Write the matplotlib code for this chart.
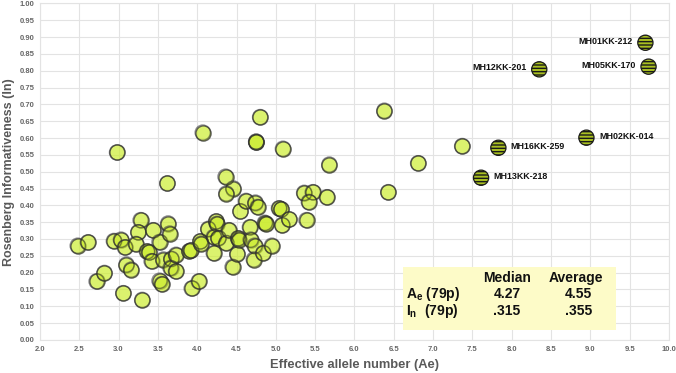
import matplotlib
matplotlib.use("Agg")
import matplotlib.pyplot as plt
import numpy as np

plt.rcParams['font.family'] = ['Liberation Sans', 'DejaVu Sans']

# Regular markers: effective allele number (Ae) and Rosenberg informativeness (In)
ae = [2.48, 2.61, 2.72, 2.82, 2.94, 3.03, 3.08, 3.10, 3.16, 3.06,
      3.30, 3.28, 3.25, 3.22, 3.36, 3.39, 3.42, 3.44, 3.52, 3.62,
      3.63, 3.65, 3.52, 3.55, 3.57, 3.67, 3.66, 3.73, 3.73, 3.90,
      3.92, 3.93, 4.02, 4.04, 4.05, 4.14, 4.21, 4.24, 4.25, 4.21,
      4.27, 4.37, 4.40, 4.45, 4.51, 4.52, 4.53, 4.55, 4.62, 4.67,
      4.68, 4.73, 4.74, 4.77, 4.72, 4.86, 4.88, 4.84, 4.95, 5.04,
      5.07, 5.08, 5.17, 5.36, 5.47, 5.42, 5.39, 5.65, 4.46, 4.37,
      2.98, 4.07, 4.36, 4.80, 4.75, 4.75, 5.09, 5.68, 6.38, 7.37,
      6.81, 6.43]
inf = [0.280, 0.290, 0.174, 0.199, 0.294, 0.298, 0.275, 0.224, 0.209, 0.139,
       0.119, 0.356, 0.320, 0.285, 0.263, 0.260, 0.234, 0.326, 0.291, 0.465,
       0.346, 0.316, 0.176, 0.166, 0.239, 0.241, 0.214, 0.253, 0.204, 0.264,
       0.266, 0.153, 0.174, 0.293, 0.286, 0.330, 0.258, 0.352, 0.345, 0.306,
       0.303, 0.288, 0.326, 0.217, 0.256, 0.302, 0.298, 0.382, 0.413, 0.335,
       0.298, 0.280, 0.408, 0.395, 0.239, 0.348, 0.345, 0.258, 0.280, 0.391,
       0.388, 0.341, 0.358, 0.437, 0.439, 0.410, 0.356, 0.424, 0.450, 0.435,
       0.557, 0.616, 0.485, 0.662, 0.589, 0.589, 0.568, 0.521, 0.681, 0.576,
       0.525, 0.439]

# Highlighted loci
hl_names = ["MH01KK-212", "MH05KK-170", "MH12KK-201", "MH02KK-014", "MH16KK-259", "MH13KK-218"]
hl_ae = [9.70, 9.74, 8.35, 8.95, 7.83, 7.61]
hl_in = [0.883, 0.812, 0.804, 0.601, 0.571, 0.482]
hl_side = ["left", "left", "left", "right", "right", "right"]

# Summary table
tbl_cols = ["Median", "Average"]
tbl_rows = ["A$_{\\mathregular{e}}$ (79p)", "I$_{\\mathregular{n}}$  (79p)"]
tbl_vals = [["4.27", "4.55"], [".315", ".355"]]

fig = plt.figure(figsize=(6.76, 3.73), dpi=100)
ax = fig.add_axes([0.0592, 0.0885, 0.9304, 0.9025])

ax.set_xlim(2.0, 10.0)
ax.set_ylim(0.0, 1.0)
ax.set_xticks(np.arange(2.0, 10.01, 0.5))
ax.set_yticks(np.arange(0.0, 1.001, 0.05))
ax.set_xticklabels([f"{v:.1f}" for v in np.arange(2.0, 10.01, 0.5)])
ax.set_yticklabels([f"{v:.2f}" for v in np.arange(0.0, 1.001, 0.05)])
ax.tick_params(axis='both', length=0, labelsize=5.5, labelcolor='#666666', pad=4)
for lab in ax.get_xticklabels() + ax.get_yticklabels():
    lab.set_fontweight('bold')
ax.grid(True, color='#e3e3e3', linewidth=0.8)
ax.set_axisbelow(True)
for s in ax.spines.values():
    s.set_color('#e3e3e3')
    s.set_linewidth(0.8)

ax.scatter(ae, inf, s=120, facecolor='#cbec2a', alpha=0.68, edgecolor='#222222',
           linewidth=1.0, zorder=3)
ax.scatter(ae, inf, s=120, facecolor='none', edgecolor='#333333',
           linewidth=1.0, alpha=0.55, zorder=3)

ax.scatter(hl_ae, hl_in, s=120, facecolor='#a9c021', edgecolor='#1a1a1a',
           hatch='-----', linewidth=0.9, zorder=4)

for name, x, y, side in zip(hl_names, hl_ae, hl_in, hl_side):
    if side == "left":
        ax.annotate(name, (x, y), xytext=(-9, 1), textcoords='offset points',
                    ha='right', va='center', fontsize=6.4, fontweight='bold', color='#111111')
    else:
        ax.annotate(name, (x, y), xytext=(9, 1), textcoords='offset points',
                    ha='left', va='center', fontsize=6.4, fontweight='bold', color='#111111')

# Summary box
ax.add_patch(plt.Rectangle((6.62, 0.030), 2.71, 0.187, facecolor='#fdfbc8',
                           edgecolor='none', zorder=5))
col_x = [7.94, 8.82]
row_y = [0.184, 0.136, 0.087]
for cx, c in zip(col_x, tbl_cols):
    ax.text(cx, row_y[0], c, ha='center', va='center', fontsize=10,
            fontweight='bold', color='#111111', zorder=6)
for i, (rl, vals) in enumerate(zip(tbl_rows, tbl_vals)):
    ax.text(6.66, row_y[i + 1], rl, ha='left', va='center', fontsize=10,
            fontweight='bold', color='#111111', zorder=6)
    ax.text(col_x[0], row_y[i + 1], vals[0], ha='center', va='center', fontsize=10,
            fontweight='bold', color='#111111', zorder=6)
    ax.text(col_x[1] + 0.03, row_y[i + 1], vals[1], ha='center', va='center', fontsize=10,
            fontweight='bold', color='#111111', zorder=6)

ax.set_xlabel("Effective allele number (Ae)", fontsize=9.3, fontweight='bold',
              color='#595959', labelpad=5)
ax.set_ylabel("Rosenberg Informativeness (In)", fontsize=9, fontweight='bold',
              color='#595959', labelpad=3)

fig.savefig("out.png", dpi=100)
